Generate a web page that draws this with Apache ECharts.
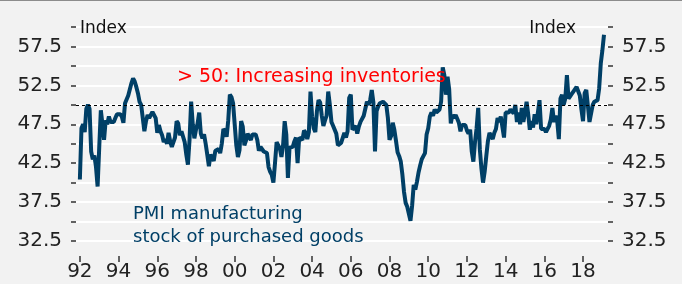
<!DOCTYPE html>
<html>
<head>
<meta charset="utf-8">
<script src="https://cdn.jsdelivr.net/npm/echarts@6/dist/echarts.min.js"></script>
<style>
  body { margin: 0; background: #f2f2f2; }
  #chart { width: 682px; height: 284px; }
</style>
</head>
<body>
<div id="chart"></div>
<script>
  // PMI manufacturing, stock of purchased goods - monthly, from Jan 1992
  var startYear = 1992;
  var stockIndex = [
    40.4, 47.0, 47.5, 46.5, 49.5, 50.0, 49.5, 44.0, 43.0, 43.5, 42.0, 39.5,
    44.5, 49.3, 47.5, 45.5, 48.0, 47.5, 48.5, 47.8, 48.0, 47.8, 48.3, 48.8,
    49.0, 48.8, 48.5, 47.7, 50.2, 50.4, 51.2, 51.4, 52.8, 53.4, 53.0, 52.3,
    51.5, 50.4, 50.0, 50.2, 46.6, 47.9, 48.7, 48.3, 48.7, 49.1, 48.9, 48.3,
    46.4, 47.4, 46.6, 46.1, 45.2, 45.6, 45.0, 46.4, 45.3, 44.6, 44.7, 45.8,
    47.9, 47.6, 46.1, 46.6, 46.6, 45.2, 43.6, 42.3, 45.5, 50.4, 47.5, 45.7,
    46.8, 47.6, 49.0, 46.3, 45.7, 46.2, 45.0, 43.6, 42.1, 43.6, 43.4, 42.8,
    44.1, 44.1, 44.3, 43.8, 45.0, 46.9, 46.6, 45.9, 48.0, 51.3, 51.0, 50.2,
    47.5, 44.8, 43.3, 44.2, 47.9, 47.2, 44.8, 45.4, 46.3, 45.8, 45.5, 46.2,
    46.4, 46.2, 45.5, 44.1, 44.6, 44.4, 44.0, 44.2, 43.8, 42.0, 41.4, 41.0,
    40.0, 42.5, 45.2, 45.0, 44.4, 43.3, 44.8, 47.9, 46.2, 40.6, 44.5, 44.5,
    44.6, 45.3, 45.8, 42.5, 45.8, 45.8, 45.5, 46.7, 46.4, 45.6, 46.5, 51.7,
    48.5, 47.0, 46.5, 49.2, 50.6, 50.3, 48.6, 47.3, 48.0, 48.6, 51.7, 50.0,
    47.8, 47.3, 47.3, 46.3, 44.8, 44.8, 45.1, 45.3, 46.4, 45.8, 46.6, 50.9,
    51.3, 46.8, 46.6, 47.3, 46.3, 47.2, 47.8, 48.2, 48.6, 48.8, 50.4, 50.0,
    50.6, 51.9, 50.3, 44.0, 49.2, 49.8, 50.2, 50.2, 50.4, 50.4, 50.0, 48.3,
    45.5, 46.0, 47.7, 46.8, 45.4, 43.9, 43.4, 42.7, 41.0, 38.8, 37.4, 36.9,
    36.0, 35.1, 37.0, 39.7, 39.1, 40.1, 41.3, 42.2, 43.0, 43.4, 43.8, 46.2,
    47.0, 48.5, 49.0, 48.6, 49.4, 49.0, 49.2, 49.4, 50.4, 54.8, 53.8, 51.3,
    53.6, 52.0, 47.6, 48.7, 48.3, 48.7, 48.2, 47.7, 46.6, 47.4, 47.6, 47.4,
    46.7, 46.3, 46.8, 44.0, 42.7, 45.2, 47.0, 49.6, 44.3, 41.8, 40.0, 41.4,
    43.4, 45.3, 46.4, 46.6, 45.6, 46.4, 46.9, 48.3, 47.8, 48.5, 48.6, 45.8,
    49.0, 48.9, 49.0, 49.4, 49.5, 48.9, 50.0, 47.8, 49.0, 47.5, 49.6, 47.8,
    49.0, 50.4, 48.8, 46.8, 47.9, 47.1, 48.8, 47.5, 49.0, 50.6, 46.9, 47.1,
    46.9, 46.5, 46.4, 47.3, 48.1, 49.6, 47.8, 48.6, 47.9, 45.6, 50.8, 51.3,
    50.0, 50.8, 53.8, 50.8, 51.1, 51.4, 51.7, 51.6, 52.3, 52.3, 51.2, 49.4,
    47.9, 51.5, 51.9, 49.9, 47.8, 47.8, 50.0, 50.4, 50.4, 50.6, 52.1, 55.3,
    57.0, 59.0
  ];
  var xTickYears = [1992, 1994, 1996, 1998, 2000, 2002, 2004, 2006, 2008, 2010, 2012, 2014, 2016, 2018];
  var yLabels = [32.5, 37.5, 42.5, 47.5, 52.5, 57.5];
  var threshold = 50;

  var font = 'DejaVu Sans';
  var lineColor = '#003f66';

  var seriesData = stockIndex.map(function (v, i) {
    return [startYear + i / 12, v];
  });

  function yAxisDef(pos) {
    return {
      type: 'value',
      position: pos,
      min: 32.5,
      max: 60,
      interval: 2.5,
      axisLine: { show: false },
      axisTick: { show: true, length: 5, lineStyle: { color: '#333', width: 1.5 } },
      axisLabel: {
        customValues: yLabels,
        formatter: function (v) { return v.toFixed(1); },
        margin: 14,
        fontSize: 20,
        fontFamily: font,
        color: '#222'
      },
      splitLine: { show: pos === 'left', lineStyle: { color: '#fff', width: 2 } }
    };
  }

  var myChart = echarts.init(document.getElementById('chart'));
  var option = {
    backgroundColor: '#f2f2f2',
    animation: false,
    grid: { left: 76, right: 74, top: 27, bottom: 43 },
    xAxis: {
      type: 'value',
      min: 1991.8,
      max: 2019.29,
      offset: 15,
      axisLine: { show: false },
      axisTick: { show: true, length: 6, customValues: xTickYears, lineStyle: { color: '#333', width: 1.5 } },
      axisLabel: {
        customValues: xTickYears,
        formatter: function (v) { return String(Math.round(v)).slice(2); },
        margin: 6,
        fontSize: 20,
        fontFamily: font,
        color: '#222'
      },
      splitLine: { show: false }
    },
    yAxis: [yAxisDef('left'), yAxisDef('right')],
    graphic: [
      { type: 'line', z: 100, shape: { x1: 0, y1: 0.5, x2: 682, y2: 0.5 }, style: { stroke: '#8c8c8c', lineWidth: 1 } },
      { type: 'text', z: 100, style: { x: 80, y: 29, text: 'Index', font: '17px DejaVu Sans', fill: '#111', textVerticalAlign: 'middle' } },
      { type: 'text', z: 100, style: { x: 576, y: 29, text: 'Index', font: '17px DejaVu Sans', fill: '#111', textAlign: 'right', textVerticalAlign: 'middle' } },
      { type: 'text', z: 100, style: { x: 177, y: 77, text: '> 50: Increasing inventories', font: '19px DejaVu Sans', fill: '#ff0000', textVerticalAlign: 'middle' } },
      { type: 'text', z: 100, style: { x: 133, y: 214, text: 'PMI manufacturing', font: '18px DejaVu Sans', fill: lineColor, textVerticalAlign: 'middle' } },
      { type: 'text', z: 100, style: { x: 133, y: 237, text: 'stock of purchased goods', font: '18px DejaVu Sans', fill: lineColor, textVerticalAlign: 'middle' } }
    ],
    series: [
      {
        name: 'PMI manufacturing stock of purchased goods',
        type: 'line',
        data: seriesData,
        showSymbol: false,
        lineStyle: { color: lineColor, width: 4 },
        markLine: {
          silent: true,
          symbol: 'none',
          label: { show: false },
          lineStyle: { type: [3, 3], color: '#000', width: 1 },
          data: [{ yAxis: threshold }]
        }
      }
    ]
  };
  myChart.setOption(option);
</script>
</body>
</html>
